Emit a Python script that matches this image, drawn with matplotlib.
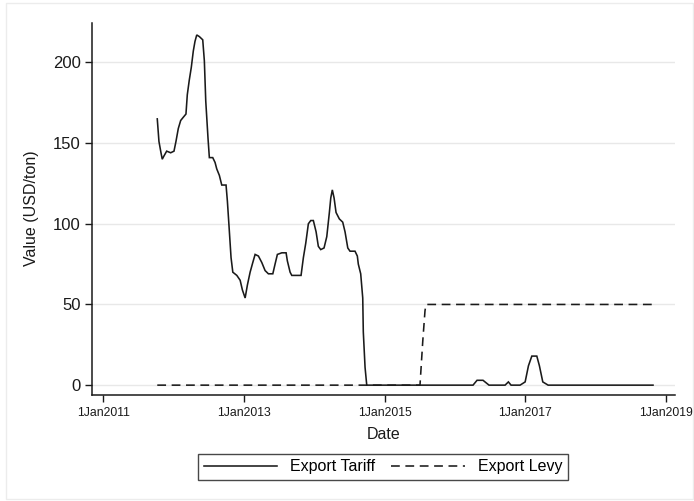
import matplotlib
matplotlib.use("Agg")
import matplotlib.pyplot as plt
import matplotlib.dates as mdates
from matplotlib.patches import Rectangle
import pandas as pd

plt.rcParams['font.family'] = ['Liberation Sans', 'DejaVu Sans']

# Export tariff (USD/ton), sampled at decimal-year times
tariff_time = [
    2011.768, 2011.792, 2011.821, 2011.839, 2011.863, 2011.902, 2011.959,
    2012.006, 2012.034, 2012.067, 2012.101, 2012.138, 2012.176, 2012.195,
    2012.223, 2012.252, 2012.280, 2012.304, 2012.329, 2012.366, 2012.414,
    2012.437, 2012.457, 2012.489, 2012.508, 2012.556, 2012.589, 2012.613,
    2012.650, 2012.684, 2012.745, 2012.764, 2012.788, 2012.816, 2012.841,
    2012.898, 2012.945, 2012.977, 2013.016, 2013.048, 2013.087, 2013.125,
    2013.158, 2013.205, 2013.253, 2013.300, 2013.347, 2013.410, 2013.442,
    2013.475, 2013.538, 2013.599, 2013.617, 2013.656, 2013.680, 2013.751,
    2013.812, 2013.845, 2013.879, 2013.916, 2013.950, 2013.987, 2014.026,
    2014.058, 2014.092, 2014.139, 2014.178, 2014.215, 2014.235, 2014.257,
    2014.282, 2014.310, 2014.357, 2014.405, 2014.438, 2014.477, 2014.509,
    2014.580, 2014.613, 2014.627, 2014.661, 2014.690, 2014.698, 2014.723,
    2014.747,
    2016.259, 2016.316, 2016.401, 2016.486, 2016.714, 2016.761, 2016.799,
    2016.927, 2016.999, 2017.046, 2017.094, 2017.165, 2017.202, 2017.250,
    2017.326, 2018.819,
]
tariff_value = [
    165, 151, 144, 140, 142, 145, 144,
    145, 151, 159, 164, 166, 168, 180,
    189, 197, 207, 213, 217, 216, 214,
    201, 176, 153, 141, 141, 138, 134,
    130, 124, 124, 114, 98, 79, 70,
    68, 65, 59, 54, 62, 70, 76,
    81, 80, 76, 71, 69, 69, 75,
    81, 82, 82, 77, 70, 68, 68,
    68, 79, 88, 100, 102, 102, 95,
    86, 84, 85, 92, 107, 116, 121,
    116, 107, 103, 101, 95, 85, 83,
    83, 80, 75, 69, 54, 33, 11,
    0,
    0, 3, 3, 0, 0, 2, 0,
    0, 2, 12, 18, 18, 12, 2,
    0, 0,
]

# Export levy (USD/ton)
levy_time = [2011.768, 2015.505, 2015.544, 2015.576, 2015.590, 2018.819]
levy_value = [0, 0, 27, 46, 50, 50]

tick_years = [2011, 2013, 2015, 2017, 2019]
tick_labels = ['1Jan2011', '1Jan2013', '1Jan2015', '1Jan2017', '1Jan2019']
y_ticks = [0, 50, 100, 150, 200]


def to_dates(times):
    out = []
    for t in times:
        y = int(t)
        start = pd.Timestamp(y, 1, 1)
        end = pd.Timestamp(y + 1, 1, 1)
        out.append(start + (t - y) * (end - start))
    return out


W, H = 694, 501
fig = plt.figure(figsize=(W / 100, H / 100), dpi=100)
fig.patch.set_facecolor('white')

# light outer frame of the graph region
fig.add_artist(Rectangle((6 / W, 1 - 499 / H), 687 / W, 496 / H,
                         transform=fig.transFigure, fill=False,
                         edgecolor='#ececec', linewidth=1.0))

ax_l, ax_r, ax_t, ax_b = 92, 675, 22.7, 394.5
ax = fig.add_axes([ax_l / W, 1 - ax_b / H, (ax_r - ax_l) / W, (ax_b - ax_t) / H])

line_color = '#1a1a1a'
ax.plot(to_dates(tariff_time), tariff_value, color=line_color, lw=1.15,
        label='Export Tariff', solid_joinstyle='miter')
ax.plot(to_dates(levy_time), levy_value, color=line_color, lw=1.15,
        linestyle=(0, (5.5, 3.5)), label='Export Levy')

ax.set_ylim(-5.8, 224.6)
xmin = to_dates([2010.839])[0]
xmax = to_dates([2019.132])[0]
ax.set_xlim(xmin, xmax)

ax.set_yticks(y_ticks)
ax.set_yticklabels([str(v) for v in y_ticks], fontsize=12)
ax.set_xticks([mdates.date2num(pd.Timestamp(y, 1, 1)) for y in tick_years])
ax.set_xticklabels(tick_labels, fontsize=8.8)

ax.grid(axis='y', color='#e8e8e8', linewidth=1.0)
ax.set_axisbelow(True)
for side in ('top', 'right'):
    ax.spines[side].set_visible(False)
for side in ('left', 'bottom'):
    ax.spines[side].set_color('#1a1a1a')
    ax.spines[side].set_linewidth(1.1)
ax.tick_params(axis='both', direction='out', length=5, width=1.0,
               color='#1a1a1a', labelcolor='#1a1a1a')
ax.tick_params(axis='y', pad=3)
ax.tick_params(axis='x', pad=4)

ax.set_ylabel('Value (USD/ton)', fontsize=11.5, color='#1a1a1a', labelpad=10)
ax.set_xlabel('Date', fontsize=11.5, color='#1a1a1a', labelpad=6)

leg = fig.legend(loc='center', bbox_to_anchor=(383 / W, 1 - 467 / H),
                 ncol=2, frameon=True, fancybox=False, fontsize=11.5,
                 handlelength=4.6, columnspacing=1.0, borderpad=0.35,
                 handletextpad=0.8)
leg.get_frame().set_edgecolor('#1a1a1a')
leg.get_frame().set_linewidth(1.0)

fig.savefig('out.png', dpi=100, facecolor='white')
